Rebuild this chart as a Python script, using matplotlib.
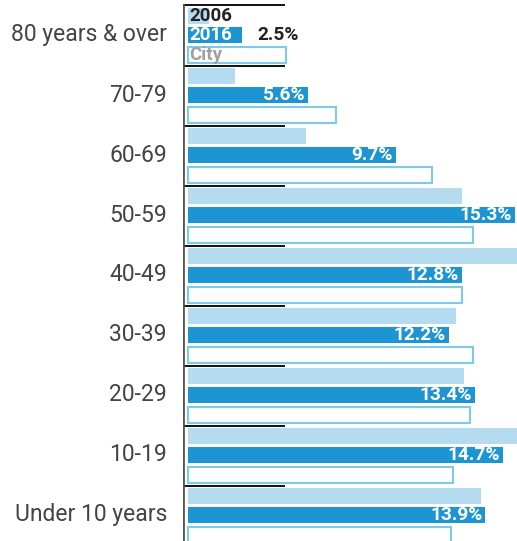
import matplotlib.pyplot as plt

# data, top to bottom
groups = ['80 years & over', '70-79', '60-69', '50-59', '40-49',
          '30-39', '20-29', '10-19', 'Under 10 years']
pct_2006 = [1.0, 2.2, 5.5, 12.8, 15.6, 12.5, 12.9, 15.6, 13.7]
pct_2016 = [2.5, 5.6, 9.7, 15.3, 12.8, 12.2, 13.4, 14.7, 13.9]
pct_city = [4.6, 6.9, 11.4, 13.3, 12.8, 13.3, 13.2, 12.4, 12.3]

c06 = '#b5dbf0'
c16 = '#1e95d3'
ccity = '#7ecbe8'

W, H = 517, 541
fig = plt.figure(figsize=(W / 100, H / 100), dpi=100)
ax = fig.add_axes([183 / W, 0, 1 - 183 / W, 1])

px = 21.4  # pixels per percent
ax.set_xlim(-5 / px, (W - 183 - 5) / px)
ax.set_ylim(H / 60, 0)  # one unit = one group (60 px)

h = 16.5 / 60
nfont = dict(fontsize=13.8, weight='bold', family='Roboto')
lfont = dict(fontsize=13.5, weight='bold', family='Roboto')
for i in range(len(groups)):
    y06 = i + 16 / 60
    y16 = i + 35 / 60
    yc = i + 55 / 60
    ax.barh(y06, pct_2006[i], height=h, color=c06, lw=0)
    ax.barh(y16, pct_2016[i], height=h, color=c16, lw=0)
    ax.barh(yc, pct_city[i], height=h * 0.92, color='white', edgecolor=ccity, lw=1.5)
    # separator line
    ax.plot([-5 / px, 97 / px], [i + 5 / 60 if i == 0 else i + 6 / 60] * 2,
            color='#111111', lw=1.4, solid_capstyle='butt')
    ax.text(-21 / px, y16, groups[i], ha='right', va='center', fontsize=16.5,
            family='Roboto', color='#444444', clip_on=False)
    lab = '%.1f%%' % pct_2016[i]
    if pct_2016[i] < 4:
        ax.text(pct_2016[i] + 0.75, y16, lab, ha='left', va='center',
                color='#222222', **nfont)
    else:
        ax.text(pct_2016[i] - 0.14, y16, lab, ha='right', va='center',
                color='white', **nfont)

# legend written inside the first group
ax.text(0.08, 16 / 60, '2006', ha='left', va='center', color='#222222', **lfont)
ax.text(0.08, 35 / 60, '2016', ha='left', va='center', color='white', **lfont)
ax.text(0.08, 55 / 60, 'City', ha='left', va='center', color='#a0a0a0', **lfont)

ax.axvline(-5 / px, ymin=0, ymax=1 - 5 / H, color='#555555', lw=2)
ax.axis('off')

fig.savefig('out.png', dpi=100)
